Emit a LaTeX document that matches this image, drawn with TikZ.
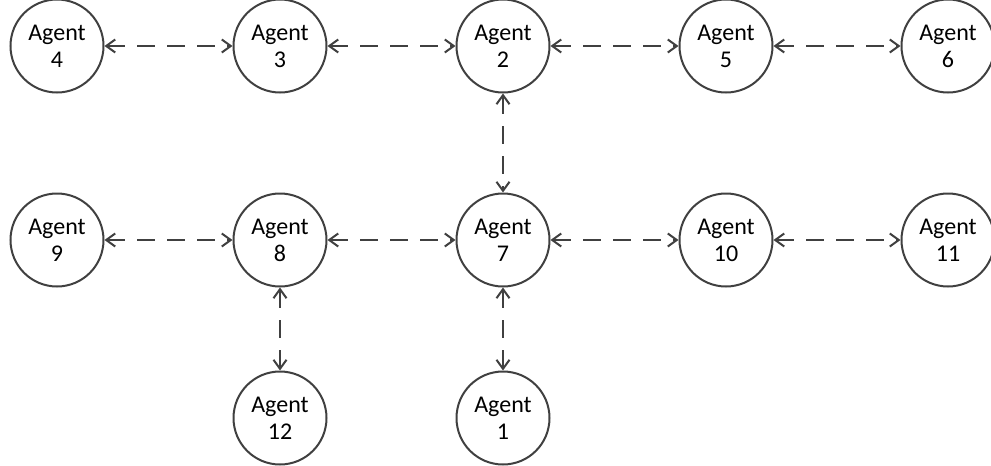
\documentclass[tikz,border=0pt]{standalone}
\usepackage{fontspec}
\setmainfont{Carlito}
\usetikzlibrary{arrows.meta}

\begin{document}
\begin{tikzpicture}[x=0.5pt, y=-0.5pt]
    % Define styles for agents and links
    \tikzstyle{agent} = [draw=black!75, circle, line width=1pt, minimum size=46.5pt, inner sep=0pt, align=center, font=\fontsize{12}{13.5}\selectfont]
    \tikzstyle{link} = [{Straight Barb[length=4.5pt,width=6.5pt]}-{Straight Barb[length=4.5pt,width=6.5pt]}, draw=black!75, line width=1pt, dash pattern=on 9pt off 6pt]

    \useasboundingbox (0,0) rectangle (991,466);

    % Top row
    \node[agent] (a4) at (57, 46) {Agent\\4};
    \node[agent] (a3) at (280, 46) {Agent\\3};
    \node[agent] (a2) at (503, 46) {Agent\\2};
    \node[agent] (a5) at (726, 46) {Agent\\5};
    \node[agent] (a6) at (948, 46) {Agent\\6};

    % Middle row
    \node[agent] (a9) at (57, 240) {Agent\\9};
    \node[agent] (a8) at (280, 240) {Agent\\8};
    \node[agent] (a7) at (503, 240) {Agent\\7};
    \node[agent] (a10) at (726, 240) {Agent\\10};
    \node[agent] (a11) at (948, 240) {Agent\\11};

    % Bottom row
    \node[agent] (a12) at (280, 418) {Agent\\12};
    \node[agent] (a1) at (503, 418) {Agent\\1};

    % Links
    \draw[link] (a4) -- (a3);
    \draw[link] (a3) -- (a2);
    \draw[link] (a2) -- (a5);
    \draw[link] (a5) -- (a6);
    \draw[link] (a2) -- (a7);
    \draw[link] (a9) -- (a8);
    \draw[link] (a8) -- (a7);
    \draw[link] (a7) -- (a10);
    \draw[link] (a10) -- (a11);
    \draw[link] (a8) -- (a12);
    \draw[link] (a7) -- (a1);
\end{tikzpicture}
\end{document}
